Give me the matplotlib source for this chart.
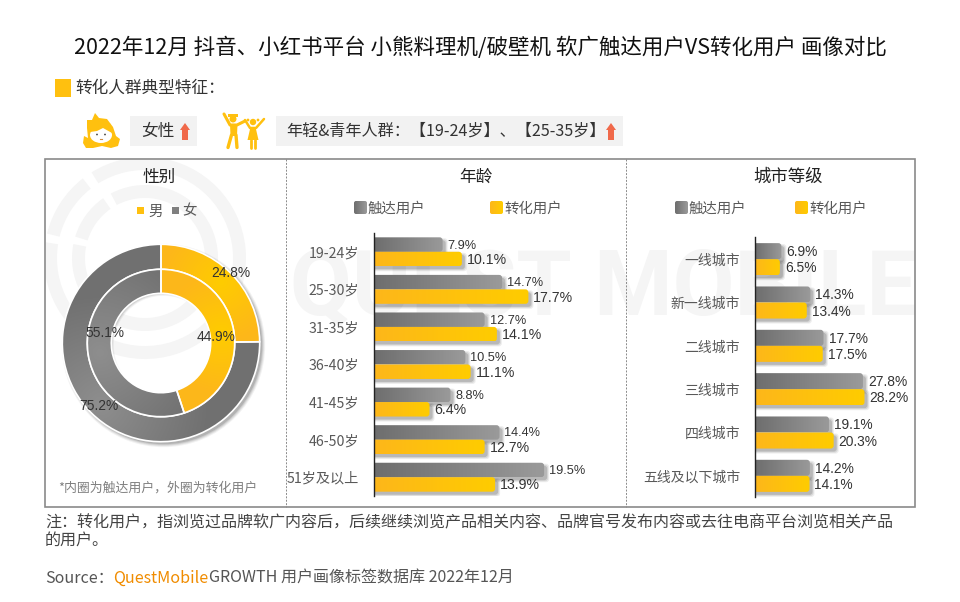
import numpy as np
import matplotlib
matplotlib.use('Agg')
import matplotlib.pyplot as plt
from matplotlib.colors import LinearSegmentedColormap
from matplotlib.patches import Circle, FancyBboxPatch, Polygon, Rectangle, Wedge, Ellipse

plt.rcParams['font.family'] = ['Noto Sans CJK SC', 'DejaVu Sans']

# data
title = '2022年12月 抖音、小红书平台 小熊料理机/破壁机 软广触达用户VS转化用户 画像对比'
gender_labels = ['男', '女']
gender_inner = [44.9, 55.1]
gender_outer = [24.8, 75.2]
age_labels = ['19-24岁', '25-30岁', '31-35岁', '36-40岁', '41-45岁', '46-50岁', '51岁及以上']
age_reach = [7.9, 14.7, 12.7, 10.5, 8.8, 14.4, 19.5]
age_convert = [10.1, 17.7, 14.1, 11.1, 6.4, 12.7, 13.9]
city_labels = ['一线城市', '新一线城市', '二线城市', '三线城市', '四线城市', '五线及以下城市']
city_reach = [6.9, 14.3, 17.7, 27.8, 19.1, 14.2]
city_convert = [6.5, 13.4, 17.5, 28.2, 20.3, 14.1]
series_names = ['触达用户', '转化用户']

GREY_MAP = LinearSegmentedColormap.from_list('g', ['#6e6e6e', '#9a9a9a'])
YELLOW_MAP = LinearSegmentedColormap.from_list('y', ['#fdb71a', '#ffcc00'])
RING_GREY = LinearSegmentedColormap.from_list('rg', ['#8e8e8e', '#707070'])
RING_YELLOW = LinearSegmentedColormap.from_list('ry', ['#ffcc00', '#fdb71a'])
TEXT = '#333333'
LABEL = '#595959'
NUM_FONT = ['Liberation Sans', 'DejaVu Sans']

fig = plt.figure(figsize=(9.6, 6.02), dpi=100)


def px_axes(left, top, right, bottom):
    ax = fig.add_axes([left / 960, 1 - bottom / 602, (right - left) / 960, (bottom - top) / 602])
    ax.patch.set_visible(False)
    return ax


# page overlay in pixel coordinates
bg = fig.add_axes([0, 0, 1, 1])
bg.set_xlim(0, 960)
bg.set_ylim(602, 0)
bg.axis('off')

# watermark, logo rings with two gaps on the upper left
wm = '#f5f5f5'
frame_clip = Rectangle((46, 160), 868, 346, transform=bg.transData)
for r, gaps in [(101, [(122, 128), (166, 171)]), (73, [(118, 125), (163, 169)])]:
    spans = [(gaps[1][1], gaps[0][0] + 360), (gaps[0][1], gaps[1][0])]
    for a, b in spans:
        # the y axis is flipped, so angles are mirrored
        w = Wedge((145, 258), r, -b, -a, width=13, fc=wm, ec='none', zorder=0.5)
        bg.add_patch(w)
        w.set_clip_path(frame_clip)
wm_text = bg.text(290, 289, 'QUEST MOBILE', fontsize=64.5, family=['Roboto', 'DejaVu Sans'], weight='bold',
                  color=wm, va='center', ha='left', zorder=0.5)
wm_text.set_clip_path(frame_clip)

bg.text(480, 47.5, title, fontsize=15.5, color='#111111', ha='center', va='center')

# key feature strip
bg.add_patch(Rectangle((55, 79), 16, 18, fc='#ffc00f', ec='none'))
bg.text(75, 88.5, '转化人群典型特征：', fontsize=12, color=TEXT, va='center')
bg.add_patch(Rectangle((130, 116), 67, 30, fc='#f2f2f2', ec='none'))
bg.add_patch(Rectangle((276, 116), 347, 30, fc='#f2f2f2', ec='none'))
bg.text(141, 131.5, '女性', fontsize=12, color=TEXT, va='center')
bg.text(286, 131.5, '年轻&青年人群：【19-24岁】、【25-35岁】', fontsize=11.6, color=TEXT, va='center')


def up_arrow(x, top, bottom):
    bg.add_patch(Polygon([(x, top), (x + 5, top + 7), (x + 3, top + 7), (x + 3, bottom),
                          (x - 3, bottom), (x - 3, top + 7), (x - 5, top + 7)], fc='#f0694a', ec='none'))


up_arrow(185, 123, 140)
up_arrow(611, 123, 140)

# girl icon
icon = '#ffc00f'
bg.add_patch(Polygon([(87, 120), (92, 120), (95, 113), (99, 118), (107, 119), (113, 127), (116, 136), (120, 139),
                      (118, 146), (111, 148), (102, 146), (93, 148), (86, 148), (83, 143), (84, 136), (88, 138),
                      (87, 128)], fc=icon, ec='none', zorder=2))
bg.add_patch(Ellipse((101, 135), 22, 16, fc='white', ec='none', zorder=3))
bg.add_patch(Polygon([(90, 132), (93, 123), (110, 123), (112, 133), (103, 128), (97, 131)], fc=icon, ec='none', zorder=4))
bg.add_patch(Circle((97, 134.5), 0.9, fc='#444444', ec='none', zorder=5))
bg.add_patch(Circle((105, 134.5), 0.9, fc='#444444', ec='none', zorder=5))
bg.plot([100, 102], [139, 139], color='#d08a40', lw=0.8, zorder=5)

# parent and child icon
bg.add_patch(Circle((233, 119), 3.5, fc=icon, ec='none'))
bg.add_patch(Rectangle((228, 114), 10, 2.5, fc=icon, ec='none'))
bg.plot([224, 230, 237, 245], [114, 125, 125, 121], color=icon, lw=2.2, solid_capstyle='round')
bg.add_patch(Polygon([(230, 124), (237.5, 124), (237, 136), (230.5, 136)], fc=icon, ec='none'))
bg.plot([231.5, 228], [135, 147.5], color=icon, lw=2.4, solid_capstyle='round')
bg.plot([236, 237], [135, 147.5], color=icon, lw=2.4, solid_capstyle='round')
bg.add_patch(Circle((253, 122), 3.2, fc=icon, ec='none'))
bg.add_patch(Circle((248, 120), 1.4, fc=icon, ec='none'))
bg.add_patch(Circle((258, 120), 1.4, fc=icon, ec='none'))
bg.plot([245, 250, 256, 264], [120, 128, 128, 119], color=icon, lw=1.8, solid_capstyle='round')
bg.add_patch(Polygon([(250.5, 127), (255.5, 127), (258.5, 140), (247.5, 140)], fc=icon, ec='none'))
bg.plot([251, 251], [140, 147.5], color=icon, lw=2, solid_capstyle='round')
bg.plot([255, 255], [140, 147.5], color=icon, lw=2, solid_capstyle='round')

# frame and dividers
bg.add_patch(Rectangle((45, 159), 870, 348, fc='none', ec='#8a8a8a', lw=1.2, zorder=2))
for x in [286, 626]:
    bg.plot([x, x], [159, 507], color='#8a8a8a', lw=0.7, ls=(0, (2, 1.5)), zorder=2)
bg.text(159.5, 177, '性别', fontsize=12, color='#222222', ha='center', va='center')
bg.text(476, 177, '年龄', fontsize=12, color='#222222', ha='center', va='center')
bg.text(788, 177, '城市等级', fontsize=12.5, color='#222222', ha='center', va='center')

# legends
bg.add_patch(Rectangle((137, 207), 7, 7, fc='#ffc00f', ec='none'))
bg.text(148, 211.5, gender_labels[0], fontsize=10.4, color=LABEL, va='center')
bg.add_patch(Rectangle((172, 207), 7, 7, fc='#7f7f7f', ec='none'))
bg.text(182, 211.5, gender_labels[1], fontsize=10.4, color=LABEL, va='center')
bg.text(58, 488.5, '*内圈为触达用户，外圈为转化用户', fontsize=9.3, color='#7f7f7f', va='center')


def legend_swatch(x, y, cmap, name):
    p = FancyBboxPatch((x, y), 13, 13, boxstyle='round,pad=0,rounding_size=2', fc='none', ec='none')
    bg.add_patch(p)
    im = bg.imshow(np.linspace(0, 1, 32).reshape(1, -1), cmap=cmap, extent=(x, x + 13, y + 13, y), aspect='auto')
    im.set_clip_path(p)
    bg.text(x + 14, y + 7.5, name, fontsize=10.4, color=LABEL, va='center')


legend_swatch(354, 201, GREY_MAP, series_names[0])
legend_swatch(490, 201, YELLOW_MAP, series_names[1])
legend_swatch(675, 201, GREY_MAP, series_names[0])
legend_swatch(795, 201, YELLOW_MAP, series_names[1])
bg.set_xlim(0, 960)
bg.set_ylim(602, 0)


def rounded_bar(ax, y, h, value, cmap, sx, sy, z):
    # sx, sy are pixels per data unit, the left end sits behind the axis line
    aspect = sx / sy
    rs = 3 / sx
    left = -rs * 2
    for grow, alpha in [(2, 0.07), (1, 0.09), (0, 0.14)]:
        shadow = FancyBboxPatch((left + 3 / sx - grow / sx, y - h / 2 + 3 / sy - grow / sy),
                                value - left + 2 * grow / sx, h + 2 * grow / sy,
                                boxstyle=f'round,pad=0,rounding_size={rs}', mutation_aspect=aspect,
                                fc='black', ec='none', alpha=alpha, zorder=z)
        ax.add_patch(shadow)
    bar = FancyBboxPatch((left, y - h / 2), value - left, h, boxstyle=f'round,pad=0,rounding_size={rs}',
                         mutation_aspect=aspect, fc='none', ec='none', zorder=z + 0.1)
    ax.add_patch(bar)
    im = ax.imshow(np.linspace(0, 1, 64).reshape(1, -1), cmap=cmap, extent=(0, value, y + h / 2, y - h / 2),
                   aspect='auto', zorder=z + 0.2)
    im.set_clip_path(bar)


def bar_panel(box, labels, reach, convert, sx, bar_h, label_x, sizes, label_size):
    ax = px_axes(*box)
    n = len(labels)
    sy = (box[3] - box[1]) / n
    xmax = (box[2] - box[0]) / sx
    for i in range(n):
        rounded_bar(ax, i - bar_h / 2, bar_h, reach[i], GREY_MAP, sx, sy, 2 + i * 2)
        rounded_bar(ax, i + bar_h / 2, bar_h, convert[i], YELLOW_MAP, sx, sy, 3 + i * 2)
        ax.text(reach[i] + 5 / sx, i - bar_h / 2 + 1 / sy, f'{reach[i]}%', fontsize=sizes[0], family=NUM_FONT,
                color=TEXT, va='center', zorder=40)
        ax.text(convert[i] + 5 / sx, i + bar_h / 2 + 1 / sy, f'{convert[i]}%', fontsize=sizes[1], family=NUM_FONT,
                color=TEXT, va='center', zorder=40)
    ax.set_xlim(0, xmax)
    ax.set_ylim(n - 0.5, -0.5)
    ax.set_yticks(range(n))
    ax.set_yticklabels(labels, fontsize=label_size, color=LABEL)
    ax.tick_params(axis='y', length=0, pad=(box[0] - label_x) * 0.72)
    ax.set_xticks([])
    for side in ['top', 'right', 'bottom']:
        ax.spines[side].set_visible(False)
    ax.spines['left'].set_color('#222222')
    ax.spines['left'].set_linewidth(1.0)
    ax.spines['left'].set_zorder(50)


bar_panel((373.5, 233, 620, 496), age_labels, age_reach, age_convert, 8.75, 0.385, 359, (9.2, 10.2), 10.2)
bar_panel((754.5, 237.5, 912, 497.5), city_labels, city_reach, city_convert, 3.9, 0.37, 740, (9.9, 9.9), 10)

# donut, one data unit is one pixel
don = px_axes(51, 233, 271, 453)
R_OUT, R_MID, R_IN = 98.7, 73.7, 49.7
for grow, alpha in [(3, 0.05), (2, 0.07), (1, 0.09), (0, 0.12)]:
    # soft shadow, kept as rings so that the hole stays see-through
    don.add_patch(Wedge((2.5, -2.5), R_OUT + grow, 0, 360, width=R_OUT - R_IN + 2 * grow - 3,
                        fc='black', ec='none', alpha=alpha, zorder=1))

grid = np.linspace(-110, 110, 440)
gx, gy = np.meshgrid(grid, grid[::-1])


def ring(values, radius, width, base_z):
    wedges, _ = don.pie(values, radius=radius, startangle=90, counterclock=False,
                        wedgeprops=dict(width=width, fc='none', ec='white', lw=1.2))
    for wedge, cmap in zip(wedges, [RING_YELLOW, RING_GREY]):
        wedge.set_zorder(base_z + 1)
        mid = np.deg2rad((wedge.theta1 + wedge.theta2) / 2)
        rm = radius - width / 2
        d = np.hypot(gx - rm * np.cos(mid), gy - rm * np.sin(mid))
        d = d / 110 if cmap is RING_GREY else d / 60
        im = don.imshow(np.clip(d, 0, 1), cmap=cmap, vmin=0, vmax=1, extent=(-110, 110, -110, 110),
                        aspect='auto', zorder=base_z)
        im.set_clip_path(wedge)


ring(gender_outer, R_OUT, R_OUT - R_MID, 2)
ring(gender_inner, R_MID, R_MID - R_IN, 4)
don.set_xlim(-110, 110)
don.set_ylim(-110, 110)
don.set_aspect('equal')
don.axis('off')
cx, cy = 161, 343
for val, px, py in [(gender_outer[0], 231, 273), (gender_inner[0], 216, 337),
                    (gender_inner[1], 105, 333), (gender_outer[1], 99, 406)]:
    don.text(px - cx, cy - py, f'{val}%', fontsize=9.9, family=NUM_FONT, color=TEXT,
             ha='center', va='center', zorder=10)

# notes
bg.text(45, 522.5, '注：转化用户，指浏览过品牌软广内容后，后续继续浏览产品相关内容、品牌官号发布内容或去往电商平台浏览相关产品',
        fontsize=11.55, color='#444444', va='center')
bg.text(45, 541.5, '的用户。', fontsize=11.55, color='#444444', va='center')
bg.text(45, 578.5, 'Source：', fontsize=11.55, color='#555555', va='center')
bg.text(113, 578.5, 'QuestMobile', fontsize=11.6, color='#f08c00', weight='medium', va='center')
bg.text(209, 578.5, 'GROWTH 用户画像标签数据库 2022年12月', fontsize=11.55, color='#555555', va='center')

fig.savefig('out.png', dpi=100)
